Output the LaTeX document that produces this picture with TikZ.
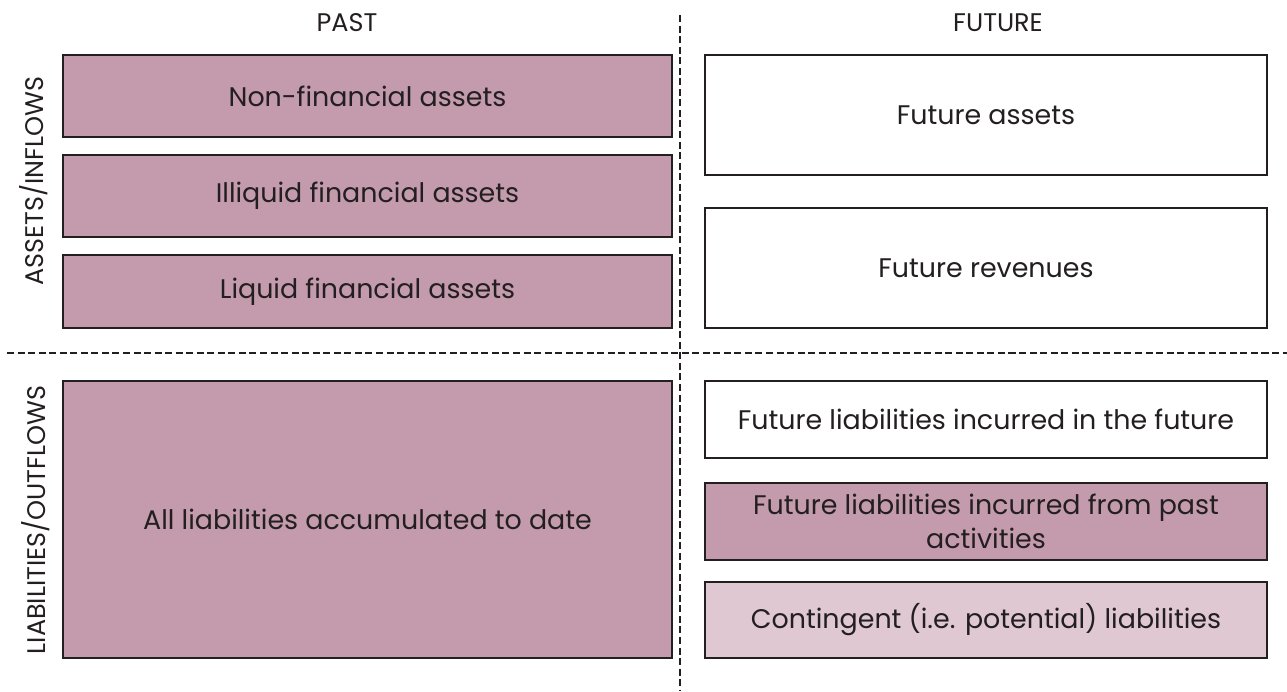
\documentclass[tikz,border=0pt]{standalone}
\usepackage{fontspec}
\setmainfont{Poppins}
\definecolor{pastpink}{HTML}{C49AAD}
\definecolor{palepink}{HTML}{DFC8D2}
\definecolor{ink}{HTML}{231F20}
\tikzset{
  box/.style={draw=ink, line width=1.1pt, text=ink, align=center, inner sep=2pt, font=\fontsize{15.3}{19}\selectfont},
  leftbox/.style={box, minimum width=12.18cm},
  rightbox/.style={box, minimum width=11.24cm},
  divider/.style={ink, line width=0.8pt, dash pattern=on 4pt off 2pt},
  heading/.style={text=ink, font=\fontsize{14.5}{17}\selectfont}
}
\begin{document}
\begin{tikzpicture}[x=0.02cm, y=-0.02cm]
    \useasboundingbox (0,0) rectangle (1287,691);
    \node[heading] (past) at (347,23) {PAST};
    \node[heading] (future) at (998,23) {FUTURE};
    \node[heading, rotate=90] (assets) at (34,181) {ASSETS/INFLOWS};
    \node[heading, rotate=90] (liabs) at (36,520) {LIABILITIES/OUTFLOWS};
    \coordinate (vtop) at (680,15);
    \coordinate (vbot) at (680,691);
    \coordinate (hleft) at (7,353);
    \coordinate (hright) at (1287,353);
    \draw[divider] (vtop) -- (vbot);
    \draw[divider] (hleft) -- (hright);
    \node[leftbox, fill=pastpink, minimum height=1.64cm] (nonfin) at (367.5,96) {Non-financial assets};
    \node[leftbox, fill=pastpink, minimum height=1.64cm] (illiquid) at (367.5,196) {Illiquid financial assets};
    \node[leftbox, fill=pastpink, minimum height=1.46cm] (liquid) at (367.5,291.5) {Liquid financial assets};
    \node[leftbox, fill=pastpink, minimum height=5.54cm] (allliab) at (367.5,519.5) {All liabilities accumulated to date};
    \node[rightbox, fill=white, minimum height=2.4cm] (futassets) at (986,115) {Future assets};
    \node[rightbox, fill=white, minimum height=2.4cm] (futrev) at (986,268) {Future revenues};
    \node[rightbox, fill=white, minimum height=1.54cm] (futliab) at (986,419.5) {Future liabilities incurred in the future};
    \node[rightbox, fill=pastpink, minimum height=1.54cm] (pastliab) at (986,521.5) {Future liabilities incurred from past\\activities};
    \node[rightbox, fill=palepink, minimum height=1.52cm] (conting) at (986,620) {Contingent (i.e. potential) liabilities};
\end{tikzpicture}
\end{document}
